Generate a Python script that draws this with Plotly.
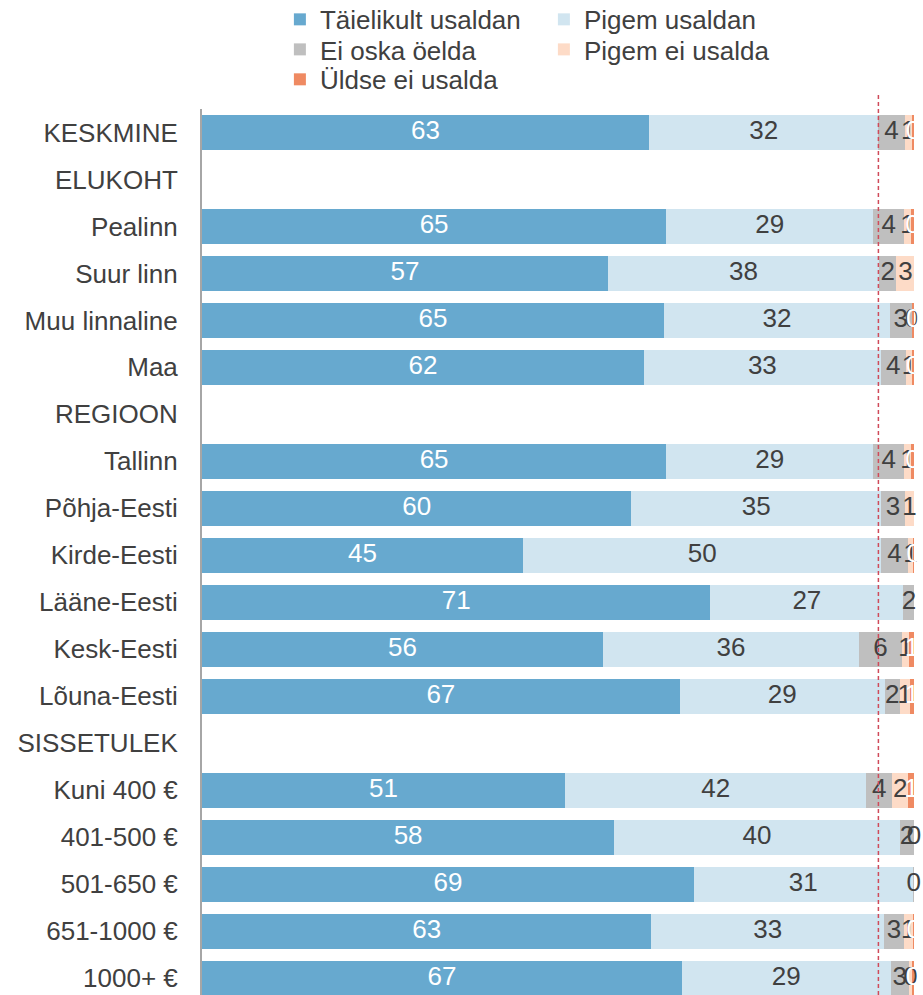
import plotly.graph_objects as go

categories = ["KESKMINE", "ELUKOHT", "Pealinn", "Suur linn", "Muu linnaline", "Maa",
              "REGIOON", "Tallinn", "Põhja-Eesti", "Kirde-Eesti", "Lääne-Eesti",
              "Kesk-Eesti", "Lõuna-Eesti", "SISSETULEK", "Kuni 400 €", "401-500 €",
              "501-650 €", "651-1000 €", "1000+ €"]

taielikult = [62.8, None, 65.2, 57.0, 64.9, 62.1, None, 65.2, 60.3, 45.1, 71.4,
              56.3, 67.1, None, 51.0, 57.9, 69.1, 63.1, 67.4]
pigem_usaldan = [32.2, None, 29.1, 38.1, 31.7, 33.2, None, 29.1, 35.1, 50.3, 27.1,
                 36.0, 28.8, None, 42.3, 40.1, 30.7, 32.7, 29.3]
ei_oska = [3.7, None, 4.3, 2.4, 3.1, 3.6, None, 4.3, 3.3, 3.7, 1.6,
           6.0, 2.1, None, 3.6, 2.0, 0.3, 2.8, 2.6]
pigem_ei = [1.0, None, 1.0, 2.6, 0.0, 0.8, None, 1.0, 1.3, 0.8, 0.0,
            1.0, 1.4, None, 2.3, 0.0, 0.0, 1.2, 0.4]
uldse_ei = [0.3, None, 0.4, 0.1, 0.4, 0.4, None, 0.4, 0.1, 0.1, 0.1,
            0.8, 0.6, None, 0.9, 0.1, 0.0, 0.3, 0.3]

series_names = ["Täielikult usaldan", "Pigem usaldan", "Ei oska öelda",
                "Pigem ei usalda", "Üldse ei usalda"]
series_values = [taielikult, pigem_usaldan, ei_oska, pigem_ei, uldse_ei]
series_colors = ["#67A9CF", "#D1E5F0", "#BFBFBF", "#FDDBC7", "#EF8A62"]
label_colors = ["#FFFFFF", "#404040", "#404040", "#404040", "#FFFFFF"]
legend_ids = ["legend", "legend", "legend2", "legend2", "legend3"]

reference_line = 95

FONT = "Liberation Sans, Arial, sans-serif"
FS = 26

fig = go.Figure()
for name, vals, col, lg in zip(series_names, series_values, series_colors, legend_ids):
    fig.add_trace(go.Bar(
        y=categories, x=vals, name=name, orientation="h", legend=lg,
        marker=dict(color=col, line=dict(width=0)),
        hoverinfo="skip",
    ))

# data labels centred on each stacked segment (drawn above all bars, like the original)
cum = [0.0] * len(categories)
for vals, tcol in zip(series_values, label_colors):
    xs, ys, ts = [], [], []
    for j, v in enumerate(vals):
        if v is None:
            continue
        xs.append(cum[j] + v / 2)
        ys.append(categories[j])
        ts.append(f"{v:.0f}")
        cum[j] += v
    fig.add_trace(go.Scatter(
        x=xs, y=ys, text=ts, mode="text", textposition="middle center",
        textfont=dict(family=FONT, size=FS, color=tcol),
        showlegend=False, hoverinfo="skip", cliponaxis=False,
    ))

fig.add_shape(type="line", xref="x", yref="paper",
              x0=reference_line, x1=reference_line, y0=0, y1=1.018,
              line=dict(color="#D04A5A", width=1.5, dash="4px,3px"))

legend_common = dict(orientation="h", x=0.1094, xanchor="left", yanchor="top",
                     entrywidth=219, traceorder="normal",
                     font=dict(family=FONT, size=FS, color="#404040"),
                     bgcolor="rgba(0,0,0,0)", itemclick=False, itemdoubleclick=False)

fig.update_layout(
    width=923, height=995,
    margin=dict(l=202, r=9, t=109, b=0, autoexpand=False),
    barmode="stack", bargap=0.255,
    plot_bgcolor="white", paper_bgcolor="white",
    font=dict(family=FONT, size=FS, color="#404040"),
    showlegend=True,
    legend=dict(y=1.1276, **legend_common),
    legend2=dict(y=1.0937, **legend_common),
    legend3=dict(y=1.0599, **legend_common),
)
fig.update_xaxes(range=[0, 100], visible=False, showgrid=False, zeroline=False)
fig.update_yaxes(categoryorder="array", categoryarray=categories,
                 range=[18.36, -0.5], showgrid=False, zeroline=False,
                 showline=True, linecolor="#A6A6A6", linewidth=2,
                 ticks="", ticklabelstandoff=17, automargin=False,
                 tickfont=dict(family=FONT, size=FS, color="#404040"))

fig.write_html("out.html", config={"displayModeBar": False},
               post_script="document.body.style.margin='0';document.body.style.overflow='hidden';")
